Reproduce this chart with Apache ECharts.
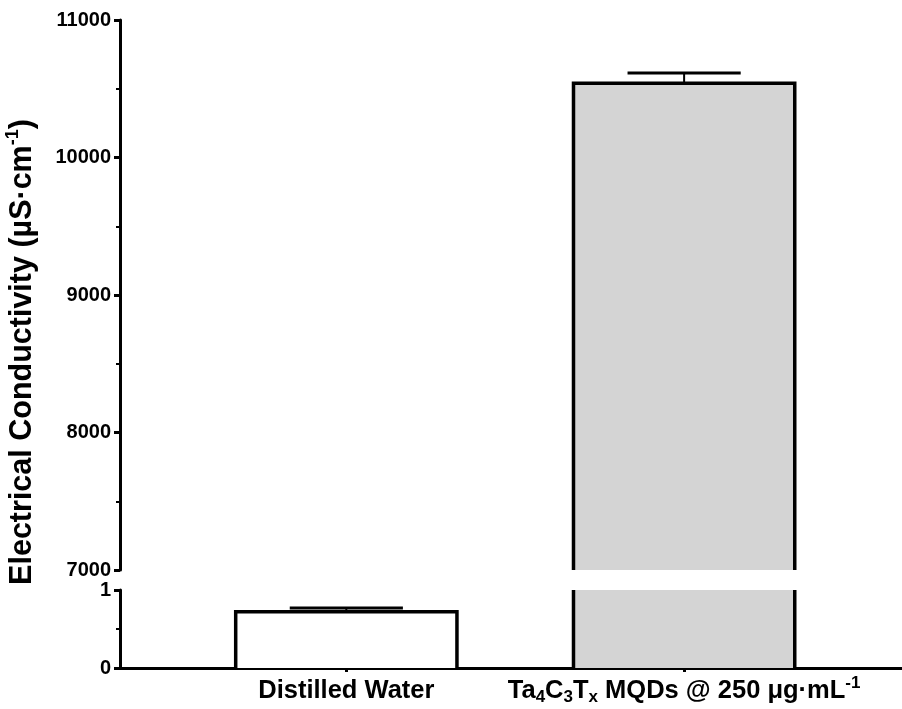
<!DOCTYPE html>
<html>
<head>
<meta charset="utf-8">
<script src="https://cdn.jsdelivr.net/npm/echarts@6/dist/echarts.min.js"></script>
<style>
  html, body { margin: 0; padding: 0; background: #fff; }
  #chart { width: 902px; height: 709px; }
</style>
</head>
<body>
<div id="chart"></div>
<script>
// data
var categories = ['Distilled Water', 'Ta4C3Tx MQDs @ 250 μg·mL-1'];
var means = [0.72, 10540];
var errors = [0.05, 75];
var fills = ['#ffffff', '#d4d4d4'];
var upperTicks = [7000, 11000, 1000];   // min, max, step of the top segment
var lowerTicks = [0, 1, 1];             // min, max, step of the bottom segment

var FONT = '"Liberation Sans", Arial, sans-serif';

var seriesData = categories.map(function (c, i) {
	return [i, means[i], errors[i]];
});

// bar + one-sided error bar, clipped to its own segment of the broken axis
function renderBar(params, api) {
	var cs = params.coordSys;
	var idx = params.dataIndex;
	var xv = api.value(0), v = api.value(1), e = api.value(2);
	var top = cs.y, bottom = cs.y + cs.height;
	var p = api.coord([xv, v]);
	var cx = p[0];
	var unit = api.size([1, 0])[0];
	var w = unit * 0.655, capW = unit * 0.335;
	if (p[1] > bottom + 0.5) return;
	var yTop = Math.max(p[1], top);
	var kids = [];
	kids.push({
		type: 'rect',
		shape: { x: cx - w / 2, y: yTop, width: w, height: bottom - yTop },
		style: { fill: fills[idx], stroke: null }
	});
	if (p[1] >= top) {
		var pe = api.coord([xv, v + e]);
		kids.push({
			type: 'line',
			shape: { x1: cx, y1: p[1], x2: cx, y2: pe[1] },
			style: { stroke: '#000', lineWidth: 2 }
		});
		kids.push({
			type: 'line',
			shape: { x1: cx - capW / 2, y1: pe[1], x2: cx + capW / 2, y2: pe[1] },
			style: { stroke: '#000', lineWidth: 3 }
		});
		kids.push({
			type: 'polyline',
			shape: { points: [[cx - w / 2, bottom], [cx - w / 2, p[1]], [cx + w / 2, p[1]], [cx + w / 2, bottom]] },
			style: { stroke: '#000', lineWidth: 3.5, fill: null, lineJoin: 'miter' }
		});
	} else {
		kids.push({
			type: 'line',
			shape: { x1: cx - w / 2, y1: top, x2: cx - w / 2, y2: bottom },
			style: { stroke: '#000', lineWidth: 3.5 }
		});
		kids.push({
			type: 'line',
			shape: { x1: cx + w / 2, y1: top, x2: cx + w / 2, y2: bottom },
			style: { stroke: '#000', lineWidth: 3.5 }
		});
	}
	return { type: 'group', children: kids };
}

function catLabel(val) {
	var i = Math.round(val);
	if (i === 0) return '{n|' + categories[0] + '}';
	return '{n|Ta}{sub|4}{n|C}{sub|3}{n|T}{sub|x}{n| MQDs @ 250 μg·mL}{sup|-1}';
}

var yAxisCommon = {
	type: 'value',
	axisLine: { show: true, onZero: false, lineStyle: { color: '#000', width: 3 } },
	axisTick: { show: true, length: 6, lineStyle: { color: '#000', width: 3 } },
	minorTick: { show: true, splitNumber: 2, length: 4, lineStyle: { color: '#000', width: 2 } },
	splitLine: { show: false },
	axisLabel: {
		color: '#000', fontWeight: 'bold', fontSize: 20, fontFamily: FONT, margin: 9,
		formatter: function (v) { return String(v); }
	}
};

var chart = echarts.init(document.getElementById('chart'));

var option = {
	animation: false,
	backgroundColor: '#fff',
	grid: [
		{ left: 120, right: 0, top: 20, height: 550 },
		{ left: 120, right: 0, top: 590, height: 78 }
	],
	xAxis: [
		{ type: 'value', gridIndex: 0, min: -0.67, max: 1.645, show: false },
		{
			type: 'value', gridIndex: 1, min: -0.67, max: 1.645,
			splitLine: { show: false },
			axisLine: { show: true, onZero: false, lineStyle: { color: '#000', width: 3 } },
			axisTick: { show: true, length: 4, customValues: [0, 1], lineStyle: { color: '#000', width: 3 } },
			axisLabel: {
				customValues: [0, 1],
				margin: 7,
				formatter: catLabel,
				rich: {
					n: { fontSize: 25.5, fontWeight: 'bold', fontFamily: FONT, color: '#000', lineHeight: 31 },
					sub: { fontSize: 17, fontWeight: 'bold', fontFamily: FONT, color: '#000', lineHeight: 13, verticalAlign: 'bottom' },
					sup: { fontSize: 17, fontWeight: 'bold', fontFamily: FONT, color: '#000', lineHeight: 13, verticalAlign: 'top' }
				}
			}
		}
	],
	yAxis: [
		Object.assign({}, yAxisCommon, { gridIndex: 0, min: upperTicks[0], max: upperTicks[1], interval: upperTicks[2] }),
		Object.assign({}, yAxisCommon, { gridIndex: 1, min: lowerTicks[0], max: lowerTicks[1], interval: lowerTicks[2] })
	],
	graphic: [{
		type: 'text',
		x: 23,
		y: 352,
		rotation: Math.PI / 2,
		style: {
			text: '{n|Electrical Conductivity (µS·cm}{sup|-1}{n|)}',
			align: 'center',
			verticalAlign: 'middle',
			rich: {
				n: { fontSize: 30.5, fontWeight: 'bold', fontFamily: FONT, fill: '#000', lineHeight: 38 },
				sup: { fontSize: 18, fontWeight: 'bold', fontFamily: FONT, fill: '#000', lineHeight: 17, verticalAlign: 'top' }
			}
		}
	}],
	series: [
		{ type: 'custom', xAxisIndex: 0, yAxisIndex: 0, renderItem: renderBar, data: seriesData },
		{ type: 'custom', xAxisIndex: 1, yAxisIndex: 1, renderItem: renderBar, data: seriesData }
	]
};

chart.setOption(option);
</script>
</body>
</html>
